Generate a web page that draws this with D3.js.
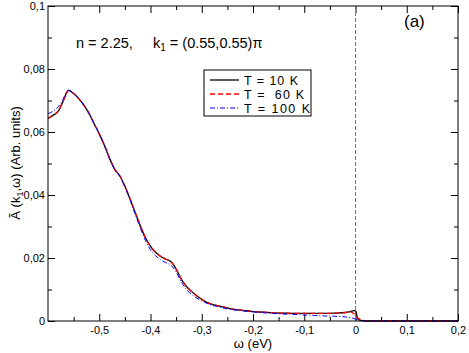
<!DOCTYPE html>
<html>
<head>
<meta charset="utf-8">
<script src="https://cdn.jsdelivr.net/npm/d3@7"></script>
<style>
  html, body { margin: 0; padding: 0; background: #fff; }
  svg { display: block; font-family: "Liberation Sans", Arial, Helvetica, sans-serif; }
  .tick text { font-size: 11px; fill: #000; }
</style>
</head>
<body>
<div id="chart"></div>
<script>
// energy grid (eV)
const omega = [-0.6, -0.59, -0.58, -0.57, -0.565, -0.56, -0.55, -0.54, -0.53, -0.52,
  -0.51, -0.50, -0.49, -0.48, -0.47, -0.46, -0.45, -0.44, -0.43, -0.42,
  -0.41, -0.40, -0.39, -0.38, -0.37, -0.36, -0.35, -0.34, -0.33, -0.32,
  -0.31, -0.30, -0.29, -0.28, -0.27, -0.26, -0.24, -0.22, -0.20, -0.18,
  -0.16, -0.14, -0.12, -0.10, -0.08, -0.06, -0.04, -0.02, -0.01, -0.003,
  0.001, 0.004, 0.01, 0.02, 0.03, 0.05, 0.1, 0.15, 0.2];

const specT10 = [0.0643, 0.0653, 0.0666, 0.0700, 0.0720, 0.0732, 0.0722, 0.0706, 0.0685, 0.0659,
  0.0626, 0.0594, 0.0558, 0.0517, 0.0482, 0.0461, 0.0428, 0.0388, 0.0345, 0.0303,
  0.0265, 0.0237, 0.0218, 0.0205, 0.0196, 0.0188, 0.0165, 0.0133, 0.0110, 0.0094,
  0.0080, 0.0069, 0.0059, 0.0053, 0.0049, 0.0045, 0.0038, 0.0034, 0.0030, 0.0028,
  0.0026, 0.0025, 0.0024, 0.0024, 0.0024, 0.0024, 0.0025, 0.0027, 0.0030, 0.0033,
  0.0031, 0.0007, 0.0002, 0.0, 0.0, 0.0, 0.0, 0.0, 0.0];

const specT60 = [0.0643, 0.0653, 0.0666, 0.0700, 0.0720, 0.0732, 0.0722, 0.0706, 0.0685, 0.0659,
  0.0626, 0.0594, 0.0558, 0.0517, 0.0482, 0.0461, 0.0428, 0.0388, 0.0345, 0.0303,
  0.0265, 0.0237, 0.0218, 0.0205, 0.0196, 0.0188, 0.0165, 0.0133, 0.0110, 0.0094,
  0.0080, 0.0069, 0.0059, 0.0053, 0.0049, 0.0045, 0.0038, 0.0034, 0.0030, 0.0028,
  0.0026, 0.0025, 0.0024, 0.0024, 0.0024, 0.0024, 0.0025, 0.0027, 0.0029, 0.0023,
  0.0015, 0.0010, 0.0004, 0.0001, 0.0, 0.0, 0.0, 0.0, 0.0];

const specT100 = [0.0658, 0.0666, 0.0680, 0.0706, 0.0724, 0.0733, 0.0722, 0.0706, 0.0685, 0.0659,
  0.0626, 0.0594, 0.0558, 0.0517, 0.0482, 0.0460, 0.0426, 0.0385, 0.0340, 0.0296,
  0.0256, 0.0226, 0.0207, 0.0194, 0.0185, 0.0177, 0.0156, 0.0124, 0.0100, 0.0085,
  0.0073, 0.0064, 0.0056, 0.0050, 0.0046, 0.0042, 0.0036, 0.0032, 0.0029, 0.0026,
  0.0024, 0.0022, 0.0021, 0.0019, 0.0018, 0.0016, 0.0015, 0.0013, 0.0011, 0.0008,
  0.0005, 0.0003, 0.0001, 0.0, 0.0, 0.0, 0.0, 0.0, 0.0];

const seriesNames = ['T = 10 K', 'T =  60 K', 'T = 100 K'];

const xMajor = [-0.5, -0.4, -0.3, -0.2, -0.1, 0, 0.1, 0.2];
const xMinor = [-0.55, -0.45, -0.35, -0.25, -0.15, -0.05, 0.05, 0.15];
const yMajor = [0, 0.02, 0.04, 0.06, 0.08, 0.1];
const yMinor = [0.01, 0.03, 0.05, 0.07, 0.09];

const width = 469, height = 353;
const margin = {left: 48, right: 11, top: 6, bottom: 32};

const svg = d3.select('#chart').append('svg')
    .attr('width', width)
    .attr('height', height);

const x = d3.scaleLinear().domain([-0.6, 0.2]).range([margin.left, width - margin.right]);
const y = d3.scaleLinear().domain([0, 0.1]).range([height - margin.bottom, margin.top]);

const loc = d3.formatLocale({decimal: ',', thousands: '.', grouping: [3], currency: ['', ''], minus: '-'});
const fmt = loc.format('~g');

//axes: major ticks with labels, minor ticks, mirrored on top and right
const addAxis = (axis, transform, values, size, labels, pad) => {
    const g = svg.append('g')
        .attr('transform', transform)
        .call(axis.tickValues(values).tickSize(-size).tickSizeOuter(0).tickPadding(pad || 5)
            .tickFormat(labels ? fmt : ''));
    g.select('.domain').remove();
    g.selectAll('.tick line').attr('stroke', '#000');
    return g;
};

const x0 = x.range()[0], x1 = x.range()[1], y0 = y.range()[0], y1 = y.range()[1];

addAxis(d3.axisBottom(x), `translate(0,${y0})`, xMajor, 7, true, 5);
addAxis(d3.axisBottom(x), `translate(0,${y0})`, xMinor, 4, false);
addAxis(d3.axisTop(x), `translate(0,${y1})`, xMajor, 7, false);
addAxis(d3.axisTop(x), `translate(0,${y1})`, xMinor, 4, false);
addAxis(d3.axisLeft(y), `translate(${x0},0)`, yMajor, 7, true, 3);
addAxis(d3.axisLeft(y), `translate(${x0},0)`, yMinor, 4, false);
addAxis(d3.axisRight(y), `translate(${x1},0)`, yMajor, 7, false);
addAxis(d3.axisRight(y), `translate(${x1},0)`, yMinor, 4, false);

// Fermi level
svg.append('line')
    .attr('x1', x(0)).attr('x2', x(0))
    .attr('y1', y1).attr('y2', y0)
    .attr('stroke', '#777')
    .attr('stroke-width', 1)
    .attr('stroke-dasharray', '4,2');

const line = d3.line()
    .x(d => x(d[0]))
    .y(d => y(d[1]))
    .curve(d3.curveMonotoneX);

const styles = [
    {color: '#000', dash: null, w: 1.3},
    {color: '#f00', dash: '5,3', w: 1.3},
    {color: '#00f', dash: '5,2,1,2', w: 1}
];
const allSeries = [specT10, specT60, specT100];

allSeries.forEach((vals, i) => {
    svg.append('path')
        .datum(omega.map((w, j) => [w, vals[j]]))
        .attr('fill', 'none')
        .attr('stroke', styles[i].color)
        .attr('stroke-width', styles[i].w)
        .attr('stroke-dasharray', styles[i].dash)
        .attr('d', line);
});

// frame
svg.append('rect')
    .attr('x', x0).attr('y', y1)
    .attr('width', x1 - x0).attr('height', y0 - y1)
    .attr('fill', 'none')
    .attr('stroke', '#000')
    .attr('stroke-width', 1);

// legend
const legend = svg.append('g').attr('transform', 'translate(204,70)');
legend.append('rect')
    .attr('width', 107).attr('height', 46)
    .attr('fill', '#fff')
    .attr('stroke', '#000');
const item = legend.selectAll('g.item')
    .data(seriesNames)
    .join('g')
    .attr('class', 'item')
    .attr('transform', (d, i) => `translate(0,${10 + i * 14})`);
item.append('line')
    .attr('x1', 6).attr('x2', 35)
    .attr('stroke', (d, i) => styles[i].color)
    .attr('stroke-width', (d, i) => styles[i].w)
    .attr('stroke-dasharray', (d, i) => styles[i].dash);
item.append('text')
    .attr('x', 40).attr('y', 4.5)
    .attr('font-size', 12.5)
    .attr('textLength', (d, i) => [54, 60, 66][i])
    .attr('lengthAdjust', 'spacing')
    .style('white-space', 'pre')
    .text(d => d);

// annotations
const note = svg.append('text')
    .attr('x', 76).attr('y', 48)
    .attr('font-size', 14.5)
    .style('white-space', 'pre');
note.append('tspan').text('n = 2.25,     k');
note.append('tspan').attr('font-size', 10).attr('dy', 3).text('1');
note.append('tspan').attr('dy', -3).text(' = (0.55,0.55)\u03c0');

svg.append('text')
    .attr('x', 404).attr('y', 27)
    .attr('font-size', 17)
    .text('(a)');

// axis titles
svg.append('text')
    .attr('x', (x0 + x1) / 2).attr('y', 348)
    .attr('text-anchor', 'middle')
    .attr('font-size', 13)
    .text('\u03c9 (eV)');

const yTitle = svg.append('text')
    .attr('transform', 'translate(20,163) rotate(-90)')
    .attr('text-anchor', 'middle')
    .attr('font-size', 13);
yTitle.append('tspan').text('\u00c3 (k');
yTitle.append('tspan').attr('font-size', 9).attr('dy', 3).text('1');
yTitle.append('tspan').attr('dy', -3).text(',\u03c9) (Arb. units)');
</script>
</body>
</html>
